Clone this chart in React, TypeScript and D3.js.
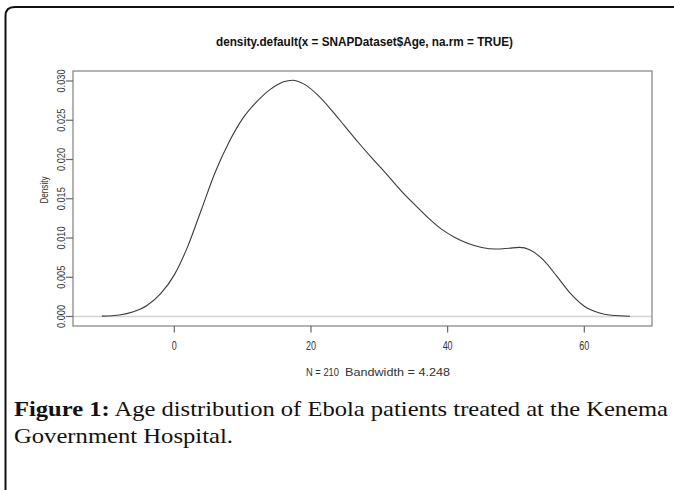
import React from 'react';
import { scaleLinear, line, curveMonotoneX } from 'd3';

// density estimate (age in years, density)
const ages = [
  -10.6, -8, -6, -4, -2, 0, 2, 4, 6, 8, 10, 12, 14, 16, 17.3, 19, 21, 23, 25,
  27, 29, 31, 33, 35, 37, 39, 41, 43, 45, 47, 49, 50.5, 52, 54, 56, 58, 60, 62,
  64, 66.7,
];
const densities = [
  0.00005, 0.0002, 0.0006, 0.0014, 0.0029, 0.0053, 0.009, 0.0137, 0.0184,
  0.0222, 0.0252, 0.0273, 0.0289, 0.0299, 0.0301, 0.0296, 0.0282, 0.0263,
  0.0242, 0.0221, 0.0201, 0.0182, 0.0162, 0.0144, 0.0127, 0.0112, 0.0101,
  0.0093, 0.0088, 0.0086, 0.0087, 0.0088, 0.0085, 0.0072, 0.0051, 0.0029,
  0.0013, 0.0005, 0.00015, 0.00003,
];

const xTicks = [0, 20, 40, 60];
const yTicks = [0, 0.005, 0.01, 0.015, 0.02, 0.025, 0.03];

const title = 'density.default(x = SNAPDataset$Age, na.rm = TRUE)';
const xLabelN = 'N = 210';
const xLabelBw = 'Bandwidth = 4.248';
const yLabel = 'Density';
const captionBold = 'Figure 1:';
const captionLine1 = ' Age distribution of Ebola patients treated at the Kenema';
const captionLine2 = 'Government Hospital.';

export default function App() {
  const W = 674;
  const H = 490;
  // plot box
  const box = { left: 73, right: 652, top: 71, bottom: 326 };

  const x = scaleLinear().domain([0, 60]).range([174.3, 584.3]);
  const y = scaleLinear().domain([0, 0.03]).range([316.5, 81]);

  const pts: [number, number][] = ages.map((a, i) => [a, densities[i]]);
  const path = line<[number, number]>()
    .x(d => x(d[0]))
    .y(d => y(d[1]))
    .curve(curveMonotoneX)(pts) || '';

  const sans = 'Liberation Sans, Arial, sans-serif';
  const serif = 'Liberation Serif, Times New Roman, serif';
  const r = 9;

  return (
    <svg
      width={W}
      height={H}
      style={{ position: 'absolute', left: 0, top: 0, background: '#fff' }}
    >
      {/* outer frame, rounded at top-left only */}
      <path
        d={`M5.5,${H} L5.5,${7 + r} Q5.5,7 ${5.5 + r},7 L${W},7`}
        fill="none"
        stroke="#111"
        strokeWidth={2}
      />

      {/* title */}
      <text
        x={216}
        y={46}
        fontFamily={sans}
        fontWeight="bold"
        fontSize={12}
        textLength={297}
        lengthAdjust="spacingAndGlyphs"
        fill="#111"
      >
        {title}
      </text>

      {/* zero line */}
      <line
        x1={box.left}
        x2={box.right}
        y1={y(0)}
        y2={y(0)}
        stroke="#d4d4d4"
        strokeWidth={1.5}
      />

      {/* density curve */}
      <path d={path} fill="none" stroke="#3a3a3a" strokeWidth={1.1} />

      {/* box */}
      <rect
        x={box.left}
        y={box.top}
        width={box.right - box.left}
        height={box.bottom - box.top}
        fill="none"
        stroke="#8a8a8a"
        strokeWidth={1.3}
      />

      {/* x axis */}
      {xTicks.map(t => (
        <g key={'x' + t}>
          <line x1={x(t)} x2={x(t)} y1={box.bottom} y2={box.bottom + 6.5} stroke="#666" strokeWidth={1.2} />
          <text
            x={x(t)}
            y={350}
            textAnchor="middle"
            fontFamily={sans}
            fontSize={12}
            textLength={String(t).length * 5}
            lengthAdjust="spacingAndGlyphs"
            fill="#333"
          >
            {t}
          </text>
        </g>
      ))}
      <text
        x={306}
        y={376}
        fontFamily={sans}
        fontSize={10.5}
        textLength={33}
        lengthAdjust="spacingAndGlyphs"
        fill="#333"
      >
        {xLabelN}
      </text>
      <text
        x={345}
        y={376}
        fontFamily={sans}
        fontSize={10.5}
        textLength={105}
        lengthAdjust="spacingAndGlyphs"
        fill="#333"
      >
        {xLabelBw}
      </text>

      {/* y axis */}
      {yTicks.map(t => (
        <g key={'y' + t}>
          <line x1={box.left - 7} x2={box.left} y1={y(t)} y2={y(t)} stroke="#666" strokeWidth={1.2} />
          <text
            transform={`translate(64.5,${y(t)}) rotate(-90)`}
            textAnchor="middle"
            fontFamily={sans}
            fontSize={11}
            textLength={23}
            lengthAdjust="spacingAndGlyphs"
            fill="#333"
          >
            {t.toFixed(3)}
          </text>
        </g>
      ))}
      <text
        transform={`translate(47.5,190) rotate(-90)`}
        textAnchor="middle"
        fontFamily={sans}
        fontSize={11}
        textLength={27}
        lengthAdjust="spacingAndGlyphs"
        fill="#333"
      >
        {yLabel}
      </text>

      {/* caption */}
      <text
        x={14}
        y={416}
        fontFamily={serif}
        fontSize={21}
        textLength={654}
        lengthAdjust="spacingAndGlyphs"
        fill="#111"
      >
        <tspan fontWeight="bold">{captionBold}</tspan>
        <tspan>{captionLine1}</tspan>
      </text>
      <text
        x={14}
        y={443}
        fontFamily={serif}
        fontSize={21}
        textLength={219}
        lengthAdjust="spacingAndGlyphs"
        fill="#111"
      >
        {captionLine2}
      </text>
    </svg>
  );
}
